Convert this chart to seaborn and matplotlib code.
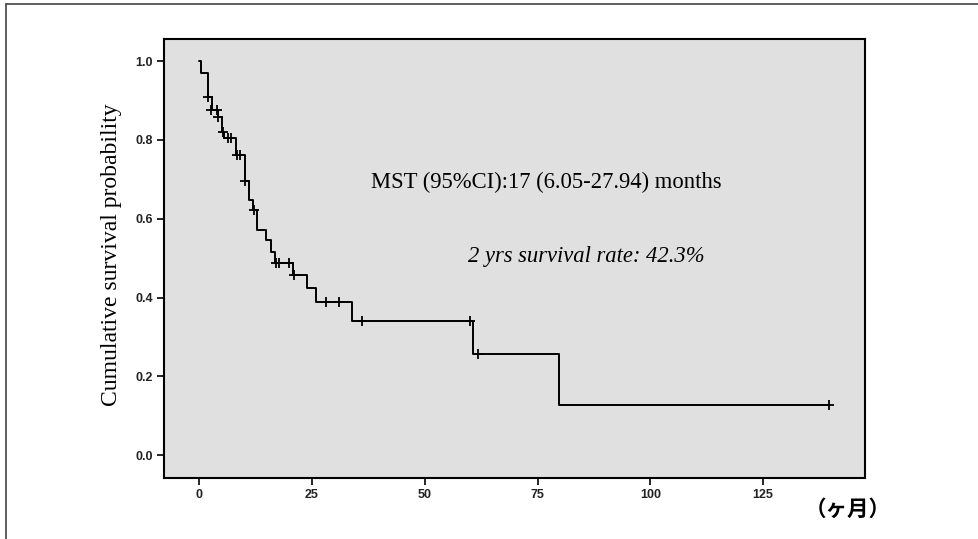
import matplotlib
matplotlib.use("Agg")
import matplotlib.pyplot as plt
from matplotlib.lines import Line2D
import numpy as np
import pandas as pd
import seaborn as sns

# Kaplan-Meier estimate: event times (months) and survival after each step
event_months = [0.0, 0.5, 2.0, 2.9, 4.2, 5.0, 5.5, 8.1, 10.1, 11.1, 12.0, 12.9,
                14.9, 15.9, 16.8, 20.8, 23.8, 26.0, 33.8, 60.8, 79.8]
survival = [1.0, 0.970, 0.909, 0.876, 0.857, 0.820, 0.806, 0.761, 0.696, 0.648,
            0.623, 0.571, 0.546, 0.516, 0.488, 0.457, 0.423, 0.388, 0.340,
            0.256, 0.127]
last_followup = 139.7

# Censored observations
censor_months = [2.0, 2.7, 3.9, 4.1, 5.2, 6.3, 7.0, 8.3, 9.0, 10.2, 12.1, 17.0,
                 17.6, 20.0, 21.0, 28.1, 31.0, 36.0, 60.1, 61.7, 139.7]
censor_surv = [0.909, 0.876, 0.876, 0.857, 0.820, 0.806, 0.806, 0.761, 0.761,
               0.696, 0.623, 0.488, 0.488, 0.488, 0.457, 0.388, 0.388, 0.340,
               0.340, 0.256, 0.127]

x_ticks = [0, 25, 50, 75, 100, 125]
y_ticks = [0.0, 0.2, 0.4, 0.6, 0.8, 1.0]

mst_text = "MST (95%CI):17 (6.05-27.94) months"
rate_text = "2 yrs survival rate: 42.3%"
y_label = "Cumulative survival probability"
x_unit = "（ヶ月）"

sns.set_theme(style="white")
plt.rcParams["font.family"] = ["Liberation Sans", "DejaVu Sans"]

curve = pd.DataFrame({"month": event_months + [last_followup],
                      "surv": survival + [survival[-1]]})
cens = pd.DataFrame({"month": censor_months, "surv": censor_surv})

fig = plt.figure(figsize=(9.79, 5.39), dpi=100)
ax = fig.add_axes([0.1675, 0.1132, 0.7161, 0.8144])
ax.set_facecolor("#e0e0e0")

sns.lineplot(data=curve, x="month", y="surv", drawstyle="steps-post",
             estimator=None, color="black", linewidth=1.4, ax=ax)
sns.scatterplot(data=cens, x="month", y="surv", marker="+", s=55,
                color="black", linewidth=1.3, ax=ax, zorder=3)

ax.set_xlim(-7.8, 147.6)
ax.set_ylim(-0.058, 1.056)
ax.set_xticks(x_ticks)
ax.set_yticks(y_ticks)
ax.set_xticklabels([str(v) for v in x_ticks])
ax.set_yticklabels([f"{v:.1f}" for v in y_ticks])
ax.set_xlabel("")
ax.set_ylabel("")
ax.tick_params(axis="both", which="major", direction="out", length=5,
               width=1.2, color="black", labelsize=9, pad=3,
               bottom=True, left=True)
for lab in ax.get_xticklabels() + ax.get_yticklabels():
    lab.set_fontweight("bold")
    lab.set_color("#222222")
for sp in ax.spines.values():
    sp.set_color("black")
    sp.set_linewidth(1.5)

ax.text(38.0, 0.693, mst_text, family="Liberation Serif", fontsize=16.3,
        va="center", ha="left", color="black")
ax.text(59.5, 0.503, rate_text, family="Liberation Serif", style="italic",
        fontsize=16.3, va="center", ha="left", color="black")

fig.text(0.114, 0.528, y_label, family="Liberation Serif", fontsize=17,
         rotation=90, va="center", ha="center", color="black")
fig.text(0.866, 0.055, x_unit, family=["Noto Sans CJK JP", "DejaVu Sans"],
         fontsize=15.5, fontweight="bold", va="center", ha="center",
         color="black")

# Outer frame (top and left edges)
fig.add_artist(Line2D([0.0065, 0.0065], [0.0, 0.993], transform=fig.transFigure,
                      color="#444444", linewidth=1.2))
fig.add_artist(Line2D([0.0065, 1.0], [0.993, 0.993], transform=fig.transFigure,
                      color="#444444", linewidth=1.2))

fig.savefig("out.png", dpi=100)
